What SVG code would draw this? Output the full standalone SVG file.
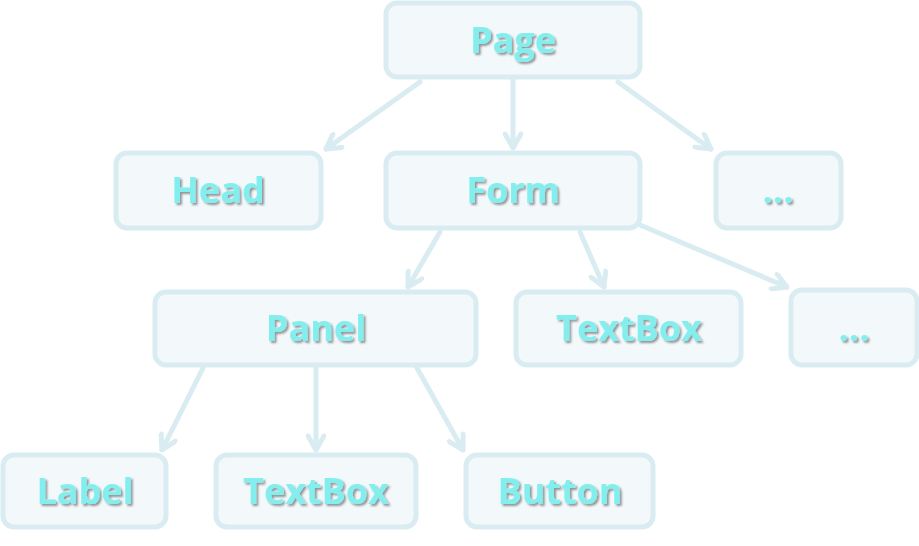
<svg xmlns="http://www.w3.org/2000/svg" width="919" height="546" viewBox="0 0 919 546">
<style>
.box{fill:#f3f8fb;stroke:#d9ecf2;stroke-width:5}
.lbl{font-family:"Open Sans","Lato",sans-serif;font-weight:700;font-size:36px;fill:#82efee;text-anchor:middle;filter:url(#sh)}
.edge{stroke:#d9ecf2;stroke-width:5;stroke-linecap:round;fill:none;marker-end:url(#arr)}
</style>
<defs>
<filter id="sh" x="-10%" y="-10%" width="130%" height="140%">
<feDropShadow dx="2" dy="2" stdDeviation="1" flood-color="#000" flood-opacity="0.4"/>
</filter>
<marker id="arr" viewBox="0 0 20 20" refX="18" refY="10" markerWidth="20" markerHeight="20" markerUnits="userSpaceOnUse" orient="auto">
<path d="M4,2 L18,10 L4,18" fill="none" stroke="#d9ecf2" stroke-width="5" stroke-linecap="round" stroke-linejoin="round"/>
</marker>
</defs>
<g id="connectors">
<line class="edge" x1="420" y1="82" x2="326" y2="149"/>
<line class="edge" x1="513" y1="80" x2="513" y2="148"/>
<line class="edge" x1="618" y1="82" x2="711" y2="149"/>
<line class="edge" x1="440" y1="232" x2="408" y2="287"/>
<line class="edge" x1="580" y1="232" x2="604" y2="287"/>
<line class="edge" x1="640" y1="225" x2="787" y2="287"/>
<line class="edge" x1="203" y1="368" x2="162" y2="450"/>
<line class="edge" x1="316" y1="368" x2="316" y2="450"/>
<line class="edge" x1="417" y1="368" x2="463" y2="450"/>
</g>
<g id="page"><rect class="box" x="386" y="3" width="254" height="74" rx="11"/><text class="lbl" x="513" y="53">Page</text></g>
<g id="head"><rect class="box" x="116" y="153" width="205" height="75" rx="11"/><text class="lbl" x="218" y="203">Head</text></g>
<g id="form"><rect class="box" x="386" y="153" width="254" height="75" rx="11"/><text class="lbl" x="513" y="203">Form</text></g>
<g id="more1"><rect class="box" x="716" y="153" width="125" height="75" rx="11"/><text class="lbl" x="778" y="203">...</text></g>
<g id="panel"><rect class="box" x="155" y="292" width="321" height="73" rx="11"/><text class="lbl" x="316" y="341">Panel</text></g>
<g id="textbox1"><rect class="box" x="516" y="292" width="225" height="73" rx="11"/><text class="lbl" x="629" y="341">TextBox</text></g>
<g id="more2"><rect class="box" x="791" y="290" width="126" height="75" rx="11"/><text class="lbl" x="854" y="341">...</text></g>
<g id="label"><rect class="box" x="3" y="455" width="163" height="72" rx="11"/><text class="lbl" x="85" y="504">Label</text></g>
<g id="textbox2"><rect class="box" x="216" y="455" width="200" height="72" rx="11"/><text class="lbl" x="316" y="504">TextBox</text></g>
<g id="button"><rect class="box" x="466" y="455" width="187" height="72" rx="11"/><text class="lbl" x="560" y="504">Button</text></g>
</svg>
